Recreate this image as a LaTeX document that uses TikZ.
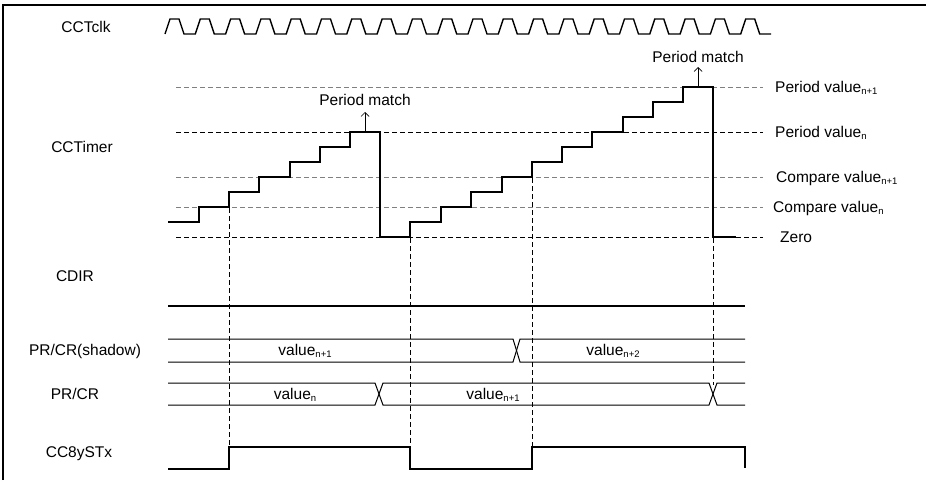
\documentclass[tikz,border=0pt]{standalone}
\usepackage{fontspec}
\setmainfont{Liberation Sans}
\usetikzlibrary{arrows.meta, positioning}

\newcommand{\sbs}[1]{\raisebox{-0.3ex}{\fontsize{9.5}{10}\selectfont #1}}

\begin{document}
\begin{tikzpicture}[
      x=1pt, y=-1pt,
      lbl/.style={font=\fontsize{15.5}{17}\selectfont, inner sep=0pt},
      sig/.style={line width=1.8pt, line join=miter},
      clk/.style={line width=1.4pt},
      bus/.style={line width=1pt},
      level/.style={line width=0.9pt, dash pattern=on 5pt off 3pt},
      levelgray/.style={level, draw=black!50},
      updline/.style={line width=0.9pt, dash pattern=on 5pt off 3pt},
      arrow/.style={-{Straight Barb[length=4pt, width=8pt]}, line width=0.7pt}
    ]
    \useasboundingbox (0,0) rectangle (926,480);
    \draw[line width=1.2pt] (3,480) -- (3,5) -- (926,5);

    % signal names
    \node[lbl, anchor=base] (nclk) at (86,32) {CCTclk};
    \node[lbl, anchor=base] (ntimer) at (82,152) {CCTimer};
    \node[lbl, anchor=base] (ncdir) at (75,281) {CDIR};
    \node[lbl, anchor=base] (nshadow) at (85,355) {PR/CR(shadow)};
    \node[lbl, anchor=base] (nprcr) at (75,399) {PR/CR};
    \node[lbl, anchor=base] (nst) at (79,457) {CC8ySTx};

    % clock
    \draw[clk] (165,34) \foreach \i in {0,...,19} {
        -- ++(5,-15) -- ++(9,0) -- ++(5,15) -- ++(11.3,0)};

    % levels
    \draw[levelgray] (176,87) -- (763,87);
    \draw[level] (176,132) -- (763,132);
    \draw[levelgray] (176,177) -- (763,177);
    \draw[levelgray] (176,207) -- (763,207);
    \draw[level] (176,237) -- (763,237);
    \node[lbl, anchor=base west] (pvn1) at (775,92) {Period value\sbs{n+1}};
    \node[lbl, anchor=base west] (pvn) at (775,137) {Period value\sbs{n}};
    \node[lbl, anchor=base west] (cvn1) at (776,182) {Compare value\sbs{n+1}};
    \node[lbl, anchor=base west] (cvn) at (773,212) {Compare value\sbs{n}};
    \node[lbl, anchor=base west] (zero) at (780,242) {Zero};

    % counter
    \draw[sig] (168,222) -- (199,222) -- (199,207) -- (229,207) -- (229,192)
      -- (259,192) -- (259,177) -- (290,177) -- (290,162) -- (320,162)
      -- (320,147) -- (350,147) -- (350,132) -- (380,132) -- (380,237)
      -- (410,237) -- (410,222) -- (441,222) -- (441,207) -- (471,207)
      -- (471,192) -- (502,192) -- (502,177) -- (532,177) -- (532,162)
      -- (562,162) -- (562,147) -- (592,147) -- (592,132) -- (623,132)
      -- (623,117) -- (653,117) -- (653,102) -- (683,102) -- (683,87)
      -- (713,87) -- (713,237) -- (736,237);

    % period match
    \node[lbl, anchor=base] (pm1) at (365,105) {Period match};
    \node[lbl, anchor=base] (pm2) at (698,62) {Period match};
    \coordinate (top1) at (365,131);
    \coordinate (top2) at (698,86);
    \draw[arrow] (top1) -- (365,112);
    \draw[arrow] (top2) -- (698,67);

    % update points
    \draw[updline] (229,208) -- (229,447);
    \draw[updline] (410,238) -- (410,447);
    \draw[updline] (532,178) -- (532,447);
    \draw[updline] (713,238) -- (713,385);

    % CDIR
    \draw[sig] (168,306) -- (745,306);

    % shadow register
    \draw[bus] (168,339) -- (513,339) -- (520,362) -- (745,362);
    \draw[bus] (168,362) -- (513,362) -- (520,339) -- (745,339);
    \node[lbl, anchor=base] (sv1) at (305,355) {value\sbs{n+1}};
    \node[lbl, anchor=base] (sv2) at (613,355) {value\sbs{n+2}};

    % active register
    \draw[bus] (168,383) -- (375,383) -- (383,405) -- (709,405) -- (717,383) -- (745,383);
    \draw[bus] (168,405) -- (375,405) -- (383,383) -- (709,383) -- (717,405) -- (745,405);
    \node[lbl, anchor=base] (av1) at (295,399) {value\sbs{n}};
    \node[lbl, anchor=base] (av2) at (493,399) {value\sbs{n+1}};

    % status
    \draw[sig] (168,469) -- (229,469) -- (229,447) -- (410,447) -- (410,469)
      -- (532,469) -- (532,447) -- (745,447) -- (745,468);
  \end{tikzpicture}
\end{document}
